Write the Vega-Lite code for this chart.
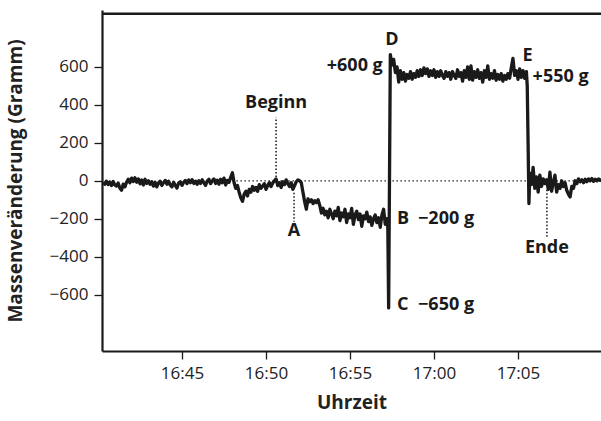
{
  "$schema": "https://vega.github.io/schema/vega-lite/v6.json",
  "autosize": "none",
  "width": 499,
  "height": 341,
  "padding": {"left": 102, "top": 10, "right": 0, "bottom": 70},
  "background": "white",
  "config": {
    "view": {"stroke": null},
    "font": "Open Sans",
    "axis": {
      "grid": false,
      "labelFont": "Open Sans",
      "labelFontSize": 17,
      "labelColor": "#222",
      "titleFont": "Open Sans",
      "titleFontSize": 19,
      "titleFontWeight": "bold",
      "titleColor": "#222",
      "domainColor": "#1a1a1a",
      "domainWidth": 2.2,
      "tickColor": "#1a1a1a",
      "tickWidth": 1.3,
      "tickSize": 8
    }
  },
  "datasets": {
    "topedge": [{"t0": 40.238, "t1": 69.94, "g": 880}],
    "trace": [
      {"t":40.3,"g":-8},{"t":40.4,"g":-18},{"t":40.5,"g":-2},{"t":40.6,"g":-20},{"t":40.7,"g":-6},{"t":40.8,"g":-25},{"t":40.9,"g":-4},{"t":41.0,"g":-22},{"t":41.1,"g":-28},{"t":41.2,"g":-12},{"t":41.3,"g":-38},{"t":41.4,"g":-50},{"t":41.5,"g":-18},{"t":41.6,"g":-32},{"t":41.7,"g":-8},{"t":41.8,"g":8},{"t":41.9,"g":-10},
      {"t":42.0,"g":14},{"t":42.1,"g":-4},{"t":42.2,"g":16},{"t":42.3,"g":-8},{"t":42.4,"g":10},{"t":42.5,"g":-16},{"t":42.6,"g":4},{"t":42.7,"g":-22},{"t":42.8,"g":8},{"t":42.9,"g":-14},
      {"t":43.0,"g":0},{"t":43.1,"g":-18},{"t":43.2,"g":-5},{"t":43.3,"g":-28},{"t":43.4,"g":-8},{"t":43.5,"g":-32},{"t":43.6,"g":-12},{"t":43.7,"g":-2},{"t":43.8,"g":-25},{"t":43.9,"g":-10},
      {"t":44.0,"g":2},{"t":44.1,"g":-18},{"t":44.2,"g":-2},{"t":44.3,"g":-22},{"t":44.4,"g":-32},{"t":44.5,"g":-8},{"t":44.6,"g":-24},{"t":44.7,"g":-38},{"t":44.8,"g":-12},{"t":44.9,"g":-5},
      {"t":45.0,"g":-24},{"t":45.1,"g":-8},{"t":45.2,"g":2},{"t":45.3,"g":-15},{"t":45.4,"g":4},{"t":45.5,"g":-10},{"t":45.6,"g":6},{"t":45.7,"g":-14},{"t":45.8,"g":-2},{"t":45.9,"g":-18},
      {"t":46.0,"g":0},{"t":46.1,"g":-14},{"t":46.2,"g":5},{"t":46.3,"g":-10},{"t":46.4,"g":-24},{"t":46.5,"g":-2},{"t":46.6,"g":8},{"t":46.7,"g":-15},{"t":46.8,"g":0},{"t":46.9,"g":10},
      {"t":47.0,"g":-14},{"t":47.1,"g":3},{"t":47.2,"g":-18},{"t":47.3,"g":8},{"t":47.4,"g":-10},{"t":47.5,"g":14},{"t":47.6,"g":-22},{"t":47.7,"g":2},{"t":47.8,"g":-8},{"t":47.9,"g":18},
      {"t":48.0,"g":42},{"t":48.1,"g":-10},{"t":48.2,"g":-40},{"t":48.3,"g":-25},{"t":48.4,"g":-60},{"t":48.5,"g":-90},{"t":48.6,"g":-108},{"t":48.7,"g":-70},{"t":48.8,"g":-55},{"t":48.9,"g":-80},
      {"t":49.0,"g":-45},{"t":49.1,"g":-60},{"t":49.2,"g":-30},{"t":49.3,"g":-50},{"t":49.4,"g":-35},{"t":49.5,"g":-55},{"t":49.6,"g":-20},{"t":49.7,"g":-40},{"t":49.8,"g":-28},{"t":49.9,"g":-15},
      {"t":50.0,"g":-45},{"t":50.1,"g":-25},{"t":50.2,"g":-10},{"t":50.3,"g":-30},{"t":50.4,"g":-12},{"t":50.5,"g":0},{"t":50.6,"g":10},{"t":50.7,"g":-25},{"t":50.8,"g":-10},{"t":50.9,"g":-35},
      {"t":51.0,"g":-5},{"t":51.1,"g":-20},{"t":51.2,"g":5},{"t":51.3,"g":-15},{"t":51.4,"g":-30},{"t":51.5,"g":-10},{"t":51.6,"g":-45},{"t":51.7,"g":-25},{"t":51.8,"g":-5},{"t":51.9,"g":5},
      {"t":52.0,"g":0},{"t":52.1,"g":-10},{"t":52.2,"g":-60},{"t":52.3,"g":-110},{"t":52.4,"g":-150},{"t":52.5,"g":-95},{"t":52.6,"g":-110},{"t":52.7,"g":-100},{"t":52.8,"g":-120},{"t":52.9,"g":-105},
      {"t":53.0,"g":-115},{"t":53.1,"g":-100},{"t":53.2,"g":-130},{"t":53.3,"g":-170},{"t":53.4,"g":-145},{"t":53.5,"g":-180},{"t":53.6,"g":-160},{"t":53.7,"g":-195},{"t":53.8,"g":-150},{"t":53.9,"g":-175},
      {"t":54.0,"g":-200},{"t":54.1,"g":-160},{"t":54.2,"g":-185},{"t":54.3,"g":-140},{"t":54.4,"g":-210},{"t":54.5,"g":-170},{"t":54.6,"g":-190},{"t":54.7,"g":-150},{"t":54.8,"g":-220},{"t":54.9,"g":-175},
      {"t":55.0,"g":-195},{"t":55.1,"g":-145},{"t":55.2,"g":-230},{"t":55.3,"g":-180},{"t":55.4,"g":-160},{"t":55.5,"g":-205},{"t":55.6,"g":-175},{"t":55.7,"g":-240},{"t":55.8,"g":-185},{"t":55.9,"g":-200},
      {"t":56.0,"g":-165},{"t":56.1,"g":-215},{"t":56.2,"g":-190},{"t":56.3,"g":-235},{"t":56.4,"g":-200},{"t":56.5,"g":-180},{"t":56.6,"g":-220},{"t":56.7,"g":-195},{"t":56.8,"g":-245},{"t":56.9,"g":-180},
      {"t":57.0,"g":-150},{"t":57.1,"g":-230},{"t":57.2,"g":-200},{"t":57.25,"g":-245},{"t":57.3,"g":-670},{"t":57.4,"g":665},{"t":57.5,"g":610},{"t":57.6,"g":640},{"t":57.7,"g":570},{"t":57.8,"g":600},{"t":57.9,"g":520},
      {"t":58.0,"g":580},{"t":58.1,"g":535},{"t":58.2,"g":570},{"t":58.3,"g":525},{"t":58.4,"g":560},{"t":58.5,"g":540},{"t":58.6,"g":575},{"t":58.7,"g":535},{"t":58.8,"g":565},{"t":58.9,"g":545},
      {"t":59.0,"g":580},{"t":59.1,"g":550},{"t":59.2,"g":585},{"t":59.3,"g":555},{"t":59.4,"g":595},{"t":59.5,"g":565},{"t":59.6,"g":590},{"t":59.7,"g":550},{"t":59.8,"g":580},{"t":59.9,"g":555},
      {"t":60.0,"g":585},{"t":60.1,"g":545},{"t":60.2,"g":575},{"t":60.3,"g":550},{"t":60.4,"g":580},{"t":60.5,"g":555},{"t":60.6,"g":540},{"t":60.7,"g":575},{"t":60.8,"g":550},{"t":60.9,"g":570},
      {"t":61.0,"g":535},{"t":61.1,"g":575},{"t":61.2,"g":555},{"t":61.3,"g":540},{"t":61.4,"g":585},{"t":61.5,"g":550},{"t":61.6,"g":570},{"t":61.7,"g":525},{"t":61.8,"g":580},{"t":61.9,"g":545},
      {"t":62.0,"g":600},{"t":62.1,"g":535},{"t":62.2,"g":605},{"t":62.3,"g":530},{"t":62.4,"g":575},{"t":62.5,"g":545},{"t":62.6,"g":585},{"t":62.7,"g":540},{"t":62.8,"g":570},{"t":62.9,"g":520},
      {"t":63.0,"g":580},{"t":63.1,"g":545},{"t":63.2,"g":605},{"t":63.3,"g":535},{"t":63.4,"g":565},{"t":63.5,"g":540},{"t":63.6,"g":580},{"t":63.7,"g":530},{"t":63.8,"g":560},{"t":63.9,"g":535},
      {"t":64.0,"g":565},{"t":64.1,"g":525},{"t":64.2,"g":555},{"t":64.3,"g":535},{"t":64.4,"g":565},{"t":64.5,"g":540},{"t":64.6,"g":595},{"t":64.7,"g":645},{"t":64.8,"g":555},{"t":64.9,"g":580},
      {"t":65.0,"g":535},{"t":65.1,"g":590},{"t":65.2,"g":545},{"t":65.3,"g":580},{"t":65.4,"g":540},{"t":65.5,"g":575},{"t":65.55,"g":500},{"t":65.6,"g":200},{"t":65.65,"g":-120},{"t":65.7,"g":40},{"t":65.8,"g":-20},{"t":65.9,"g":70},
      {"t":66.0,"g":-40},{"t":66.1,"g":20},{"t":66.2,"g":-60},{"t":66.3,"g":30},{"t":66.4,"g":-30},{"t":66.5,"g":10},{"t":66.6,"g":-15},{"t":66.7,"g":5},{"t":66.8,"g":-45},{"t":66.9,"g":45},
      {"t":67.0,"g":-55},{"t":67.1,"g":-10},{"t":67.2,"g":30},{"t":67.3,"g":-60},{"t":67.4,"g":-20},{"t":67.5,"g":-40},{"t":67.6,"g":0},{"t":67.7,"g":-30},{"t":67.8,"g":-10},{"t":67.9,"g":-50},
      {"t":68.0,"g":-70},{"t":68.1,"g":-85},{"t":68.2,"g":-30},{"t":68.3,"g":-40},{"t":68.4,"g":0},{"t":68.5,"g":-15},{"t":68.6,"g":10},{"t":68.7,"g":-5},{"t":68.8,"g":5},{"t":68.9,"g":-10},
      {"t":69.0,"g":8},{"t":69.1,"g":-5},{"t":69.2,"g":10},{"t":69.3,"g":0},{"t":69.4,"g":12},{"t":69.5,"g":-3},{"t":69.6,"g":8},{"t":69.7,"g":0},{"t":69.8,"g":10},{"t":69.9,"g":2},{"t":70.0,"g":5},{"t":70.1,"g":0},{"t":70.2,"g":5}
    ],
    "zeroline": [{"t0": 48.0, "t1": 70.3, "g": 0}],
    "vlines": [
      {"t": 50.6, "g0": 20, "g1": 335},
      {"t": 51.67, "g0": -63, "g1": -216},
      {"t": 66.72, "g0": -47, "g1": -295}
    ],
    "labelsCenter": [
      {"t": 50.6, "g": 410, "label": "Beginn"},
      {"t": 51.67, "g": -263, "label": "A"},
      {"t": 66.72, "g": -353, "label": "Ende"},
      {"t": 57.5, "g": 742, "label": "D"},
      {"t": 65.57, "g": 655, "label": "E"}
    ],
    "labelsLeft": [
      {"t": 65.87, "g": 549, "label": "+550 g"},
      {"t": 57.8, "g": -200, "label": "B"},
      {"t": 59.05, "g": -200, "label": "−200 g"},
      {"t": 57.8, "g": -655, "label": "C"},
      {"t": 59.05, "g": -655, "label": "−650 g"}
    ],
    "labelsRight": [
      {"t": 56.95, "g": 605, "label": "+600 g"}
    ]
  },
  "encoding": {
    "x": {
      "field": "t",
      "type": "quantitative",
      "scale": {"domain": [40.238, 69.94], "nice": false, "zero": false},
      "axis": {
        "title": "Uhrzeit",
        "values": [45, 50, 55, 60, 65],
        "labelExpr": "datum.value < 60 ? '16:' + datum.value : '17:0' + (datum.value - 60)",
        "labelPadding": 6,
        "titlePadding": 12
      }
    },
    "y": {
      "field": "g",
      "type": "quantitative",
      "scale": {"domain": [-897, 900], "nice": false, "zero": false},
      "axis": {
        "title": "Massenveränderung (Gramm)",
        "values": [-600, -400, -200, 0, 200, 400, 600],
        "labelPadding": 6,
        "titlePadding": 24
      }
    }
  },
  "layer": [
    {
      "data": {"name": "zeroline"},
      "mark": {"type": "rule", "color": "#222", "strokeWidth": 1.3, "strokeDash": [1.5, 2.5], "clip": true},
      "encoding": {"x": {"field": "t0"}, "x2": {"field": "t1"}}
    },
    {
      "data": {"name": "vlines"},
      "mark": {"type": "rule", "color": "#222", "strokeWidth": 1.6, "strokeDash": [1.5, 2]},
      "encoding": {"y": {"field": "g0"}, "y2": {"field": "g1"}}
    },
    {
      "data": {"name": "trace"},
      "mark": {"type": "line", "color": "#1a1a1a", "strokeWidth": 3.3, "strokeJoin": "round", "clip": true}
    },
    {
      "data": {"name": "topedge"},
      "mark": {"type": "rule", "color": "#1a1a1a", "strokeWidth": 2.4},
      "encoding": {"x": {"field": "t0"}, "x2": {"field": "t1"}}
    },
    {
      "data": {"name": "labelsCenter"},
      "mark": {"type": "text", "font": "Open Sans", "fontSize": 18, "fontWeight": "bold", "color": "#1a1a1a", "align": "center", "baseline": "middle"},
      "encoding": {"text": {"field": "label"}}
    },
    {
      "data": {"name": "labelsLeft"},
      "mark": {"type": "text", "font": "Open Sans", "fontSize": 18, "fontWeight": "bold", "color": "#1a1a1a", "align": "left", "baseline": "middle"},
      "encoding": {"text": {"field": "label"}}
    },
    {
      "data": {"name": "labelsRight"},
      "mark": {"type": "text", "font": "Open Sans", "fontSize": 18, "fontWeight": "bold", "color": "#1a1a1a", "align": "right", "baseline": "middle"},
      "encoding": {"text": {"field": "label"}}
    }
  ]
}
